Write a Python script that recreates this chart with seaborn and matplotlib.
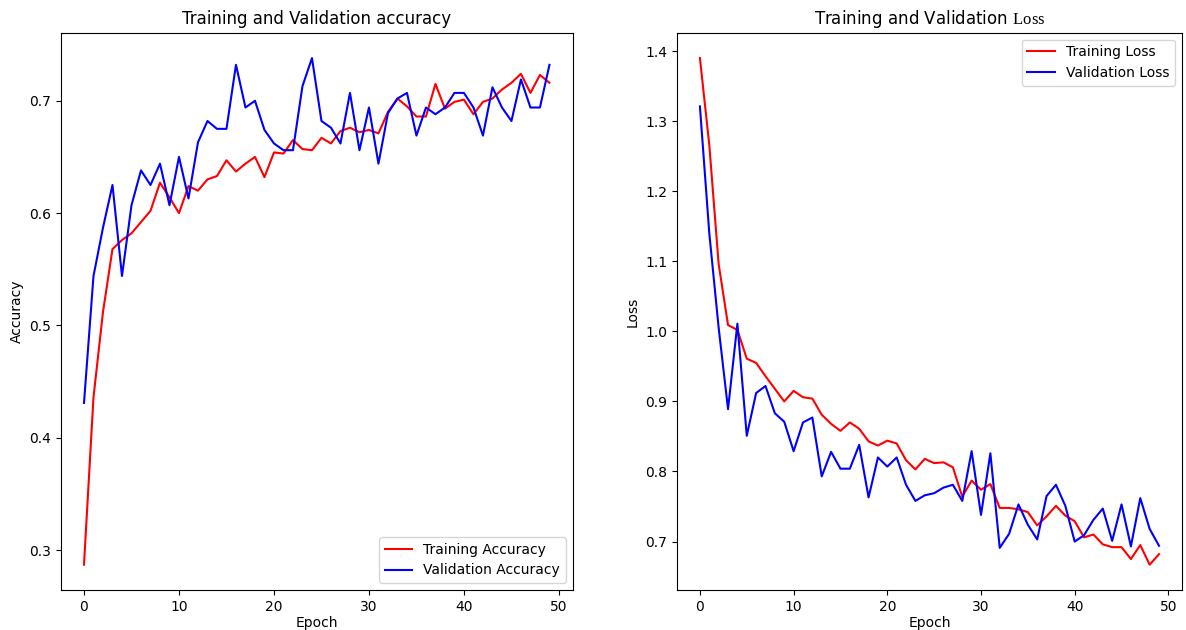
import pandas as pd
import matplotlib.pyplot as plt
import seaborn as sns

# Training history (50 epochs)
epochs = list(range(50))

train_acc = [0.287, 0.436, 0.512, 0.568, 0.576, 0.582, 0.592, 0.602, 0.627, 0.614,
             0.600, 0.624, 0.620, 0.630, 0.633, 0.647, 0.637, 0.644, 0.650, 0.632,
             0.654, 0.653, 0.665, 0.657, 0.656, 0.667, 0.662, 0.673, 0.676, 0.672,
             0.674, 0.671, 0.690, 0.702, 0.695, 0.686, 0.686, 0.715, 0.693, 0.699,
             0.701, 0.688, 0.699, 0.702, 0.710, 0.716, 0.724, 0.707, 0.723, 0.716]

val_acc = [0.431, 0.544, 0.587, 0.625, 0.544, 0.607, 0.638, 0.625, 0.644, 0.607,
           0.650, 0.613, 0.663, 0.682, 0.675, 0.675, 0.732, 0.694, 0.700, 0.674,
           0.662, 0.656, 0.656, 0.713, 0.738, 0.682, 0.676, 0.662, 0.707, 0.656,
           0.694, 0.644, 0.689, 0.702, 0.707, 0.669, 0.694, 0.688, 0.694, 0.707,
           0.707, 0.694, 0.669, 0.712, 0.694, 0.682, 0.719, 0.694, 0.694, 0.732]

train_loss = [1.390, 1.266, 1.096, 1.009, 1.002, 0.961, 0.955, 0.936, 0.918, 0.900,
              0.915, 0.906, 0.904, 0.881, 0.868, 0.858, 0.870, 0.861, 0.843, 0.837,
              0.844, 0.840, 0.816, 0.803, 0.818, 0.812, 0.813, 0.806, 0.764, 0.787,
              0.774, 0.782, 0.748, 0.748, 0.746, 0.742, 0.723, 0.736, 0.751, 0.737,
              0.729, 0.706, 0.710, 0.696, 0.692, 0.692, 0.675, 0.695, 0.667, 0.682]

val_loss = [1.321, 1.140, 1.005, 0.889, 1.011, 0.851, 0.912, 0.922, 0.883, 0.871,
            0.829, 0.870, 0.877, 0.793, 0.828, 0.804, 0.804, 0.838, 0.763, 0.820,
            0.807, 0.820, 0.781, 0.758, 0.766, 0.769, 0.777, 0.781, 0.758, 0.829,
            0.738, 0.826, 0.691, 0.711, 0.753, 0.724, 0.703, 0.765, 0.781, 0.751,
            0.700, 0.709, 0.731, 0.747, 0.701, 0.753, 0.693, 0.762, 0.718, 0.694]

history = pd.DataFrame({
    'epoch': epochs,
    'accuracy': train_acc,
    'val_accuracy': val_acc,
    'loss': train_loss,
    'val_loss': val_loss,
})

# "Loss" in the right title is set in a serif face
plt.rcParams['mathtext.fontset'] = 'custom'
plt.rcParams['mathtext.rm'] = 'Liberation Serif'

fig, (ax1, ax2) = plt.subplots(1, 2, figsize=(11.86, 6.3), dpi=100)
bottom, top = 0.0635, 0.948
ax1.set_position([0.0512, bottom, 0.4829 - 0.0512, top - bottom])
ax2.set_position([0.5708, bottom, 0.9966 - 0.5708, top - bottom])

# Accuracy
sns.lineplot(data=history, x='epoch', y='accuracy', color='red', label='Training Accuracy', ax=ax1)
sns.lineplot(data=history, x='epoch', y='val_accuracy', color='blue', label='Validation Accuracy', ax=ax1)
ax1.set_title('Training and Validation accuracy')
ax1.set_xlabel('Epoch', labelpad=2)
ax1.set_ylabel('Accuracy')
ax1.legend(loc='lower right')

# Loss
sns.lineplot(data=history, x='epoch', y='loss', color='red', label='Training Loss', ax=ax2)
sns.lineplot(data=history, x='epoch', y='val_loss', color='blue', label='Validation Loss', ax=ax2)
ax2.set_title(r'Training and Validation $\mathrm{Loss}$')
ax2.set_xlabel('Epoch', labelpad=2)
ax2.set_ylabel('Loss')
ax2.legend(loc='upper right')

plt.savefig('out.png')
